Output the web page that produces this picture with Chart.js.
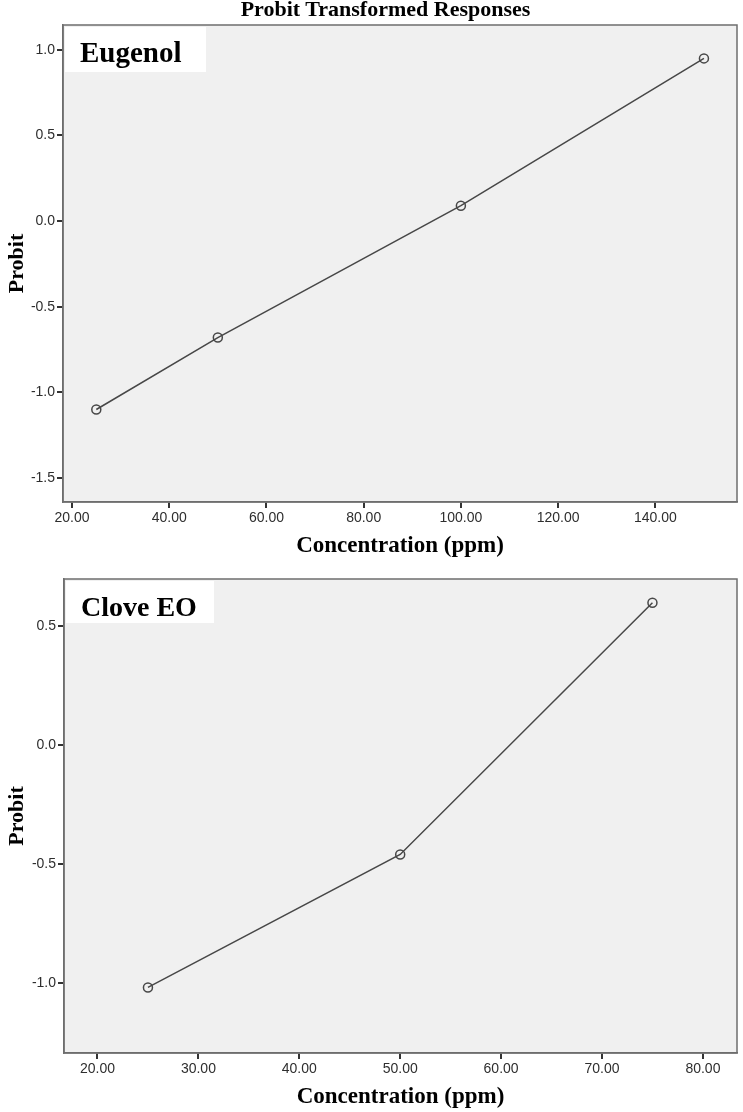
<!DOCTYPE html>
<html>
<head>
<meta charset="utf-8">
<script src="https://cdn.jsdelivr.net/npm/chart.js@4.4.1/dist/chart.umd.min.js"></script>
<style>
    html, body { margin: 0; padding: 0; background: #fff; }
    .panel { position: absolute; left: 0; width: 743px; }
    #top-panel { top: 0; height: 560px; }
    #bottom-panel { top: 560px; height: 552px; }
    #main-title {
        position: absolute; top: -4px; left: 0; width: 771px; text-align: center;
        font: bold 22px 'Liberation Serif', 'Times New Roman', serif; color: #000;
        z-index: 2; white-space: nowrap;
    }
</style>
</head>
<body>
<div class="panel" id="top-panel"><canvas id="eugenolChart" width="743" height="560"></canvas></div>
<div class="panel" id="bottom-panel"><canvas id="cloveChart" width="743" height="552"></canvas></div>
<div id="main-title">Probit Transformed Responses</div>
<script>
// --- data ---
const eugenolConc = [25, 50, 100, 150];
const eugenolProbit = [-1.10, -0.68, 0.09, 0.95];
const eugenolXTicks = [20, 40, 60, 80, 100, 120, 140];
const eugenolYTicks = [-1.5, -1.0, -0.5, 0.0, 0.5, 1.0];

const cloveConc = [25, 50, 75];
const cloveProbit = [-1.02, -0.46, 0.60];
const cloveXTicks = [20, 30, 40, 50, 60, 70, 80];
const cloveYTicks = [-1.0, -0.5, 0.0, 0.5];

const serif = "'Liberation Serif', 'Times New Roman', serif";
const sans = "'Liberation Sans', Arial, sans-serif";

// plot background, frame and the white label box in the corner
const panelPlugin = {
    id: 'panelLabel',
    beforeDraw(chart) {
        const { ctx, chartArea: a } = chart;
        ctx.save();
        ctx.fillStyle = '#ffffff';
        ctx.fillRect(0, 0, chart.width, chart.height);
        ctx.fillStyle = '#f0f0f0';
        ctx.fillRect(a.left, a.top, a.right - a.left, a.bottom - a.top);
        ctx.restore();
    },
    beforeDatasetsDraw(chart) {
        const { ctx, chartArea: a } = chart;
        ctx.save();
        ctx.strokeStyle = '#6e6e6e';
        ctx.lineWidth = 1.5;
        ctx.strokeRect(a.left, a.top, a.right - a.left, a.bottom - a.top);
        ctx.restore();
    },
    afterDatasetsDraw(chart, args, opts) {
        const { ctx, chartArea: a } = chart;
        ctx.save();
        ctx.fillStyle = '#ffffff';
        ctx.fillRect(a.left + 2, a.top + 2, opts.boxWidth, opts.boxHeight);
        ctx.fillStyle = '#000';
        ctx.font = 'bold ' + opts.size + 'px ' + serif;
        ctx.textBaseline = 'alphabetic';
        ctx.fillText(opts.text, a.left + 17, a.top + 37);
        ctx.restore();
    }
};

function makeChart(canvasId, conc, probit, xTicks, yTicks, ranges, extra) {
    const el = document.getElementById(canvasId);
    return new Chart(el, {
        type: 'scatter',
        data: {
            datasets: [{
                data: conc.map((c, i) => ({ x: c, y: probit[i] })),
                showLine: true,
                borderColor: '#474747',
                borderWidth: 1.5,
                pointRadius: 4.5,
                pointBorderWidth: 1.5,
                pointBorderColor: '#474747',
                pointBackgroundColor: 'rgba(0,0,0,0)',
                tension: 0
            }]
        },
        options: {
            responsive: false,
            animation: false,
            layout: { padding: extra.padding },
            plugins: {
                legend: { display: false },
                tooltip: { enabled: false },
                title: { display: false },
                panelLabel: extra.label
            },
            scales: {
                x: {
                    type: 'linear',
                    min: ranges.xMin,
                    max: ranges.xMax,
                    afterBuildTicks: s => { s.ticks = xTicks.map(v => ({ value: v })); },
                    afterFit: s => { s.height = extra.xHeight; },
                    ticks: {
                        callback: v => Number(v).toFixed(2),
                        font: { family: sans, size: 14 },
                        color: '#2e2e2e',
                        padding: 2,
                        maxRotation: 0,
                        autoSkip: false
                    },
                    grid: { drawOnChartArea: false, tickLength: 6, color: '#333', lineWidth: 2 },
                    border: { color: '#6e6e6e', width: 1.5 },
                    title: {
                        display: true,
                        text: 'Concentration (ppm)',
                        font: { family: serif, weight: 'bold', size: 23 },
                        color: '#000',
                        padding: { top: 0, bottom: extra.xTitlePad }
                    }
                },
                y: {
                    type: 'linear',
                    min: ranges.yMin,
                    max: ranges.yMax,
                    afterBuildTicks: s => { s.ticks = yTicks.map(v => ({ value: v })); },
                    afterFit: s => { s.width = extra.yWidth; },
                    ticks: {
                        callback: v => Number(v).toFixed(1),
                        font: { family: sans, size: 14 },
                        color: '#2e2e2e',
                        padding: 2
                    },
                    grid: { drawOnChartArea: false, tickLength: 6, color: '#333', lineWidth: 2 },
                    border: { color: '#6e6e6e', width: 1.5 },
                    title: {
                        display: true,
                        text: 'Probit',
                        font: { family: serif, weight: 'bold', size: 22 },
                        color: '#000',
                        padding: { top: 4, bottom: 0 }
                    }
                }
            }
        },
        plugins: [panelPlugin]
    });
}

makeChart('eugenolChart', eugenolConc, eugenolProbit, eugenolXTicks, eugenolYTicks,
    { xMin: 18.15, xMax: 156.8, yMin: -1.64, yMax: 1.145 },
    {
        padding: { top: 25, right: 4, left: 0, bottom: 0 },
        label: { text: 'Eugenol', size: 29, boxWidth: 141, boxHeight: 45 },
        xHeight: 58,
        xTitlePad: 0,
        yWidth: 63
    });

makeChart('cloveChart', cloveConc, cloveProbit, cloveXTicks, cloveYTicks,
    { xMin: 16.68, xMax: 83.38, yMin: -1.296, yMax: 0.70 },
    {
        padding: { top: 19, right: 2, left: 0, bottom: 0 },
        label: { text: 'Clove EO', size: 28, boxWidth: 148, boxHeight: 42 },
        xHeight: 59,
        xTitlePad: 1,
        yWidth: 64
    });
</script>
</body>
</html>
